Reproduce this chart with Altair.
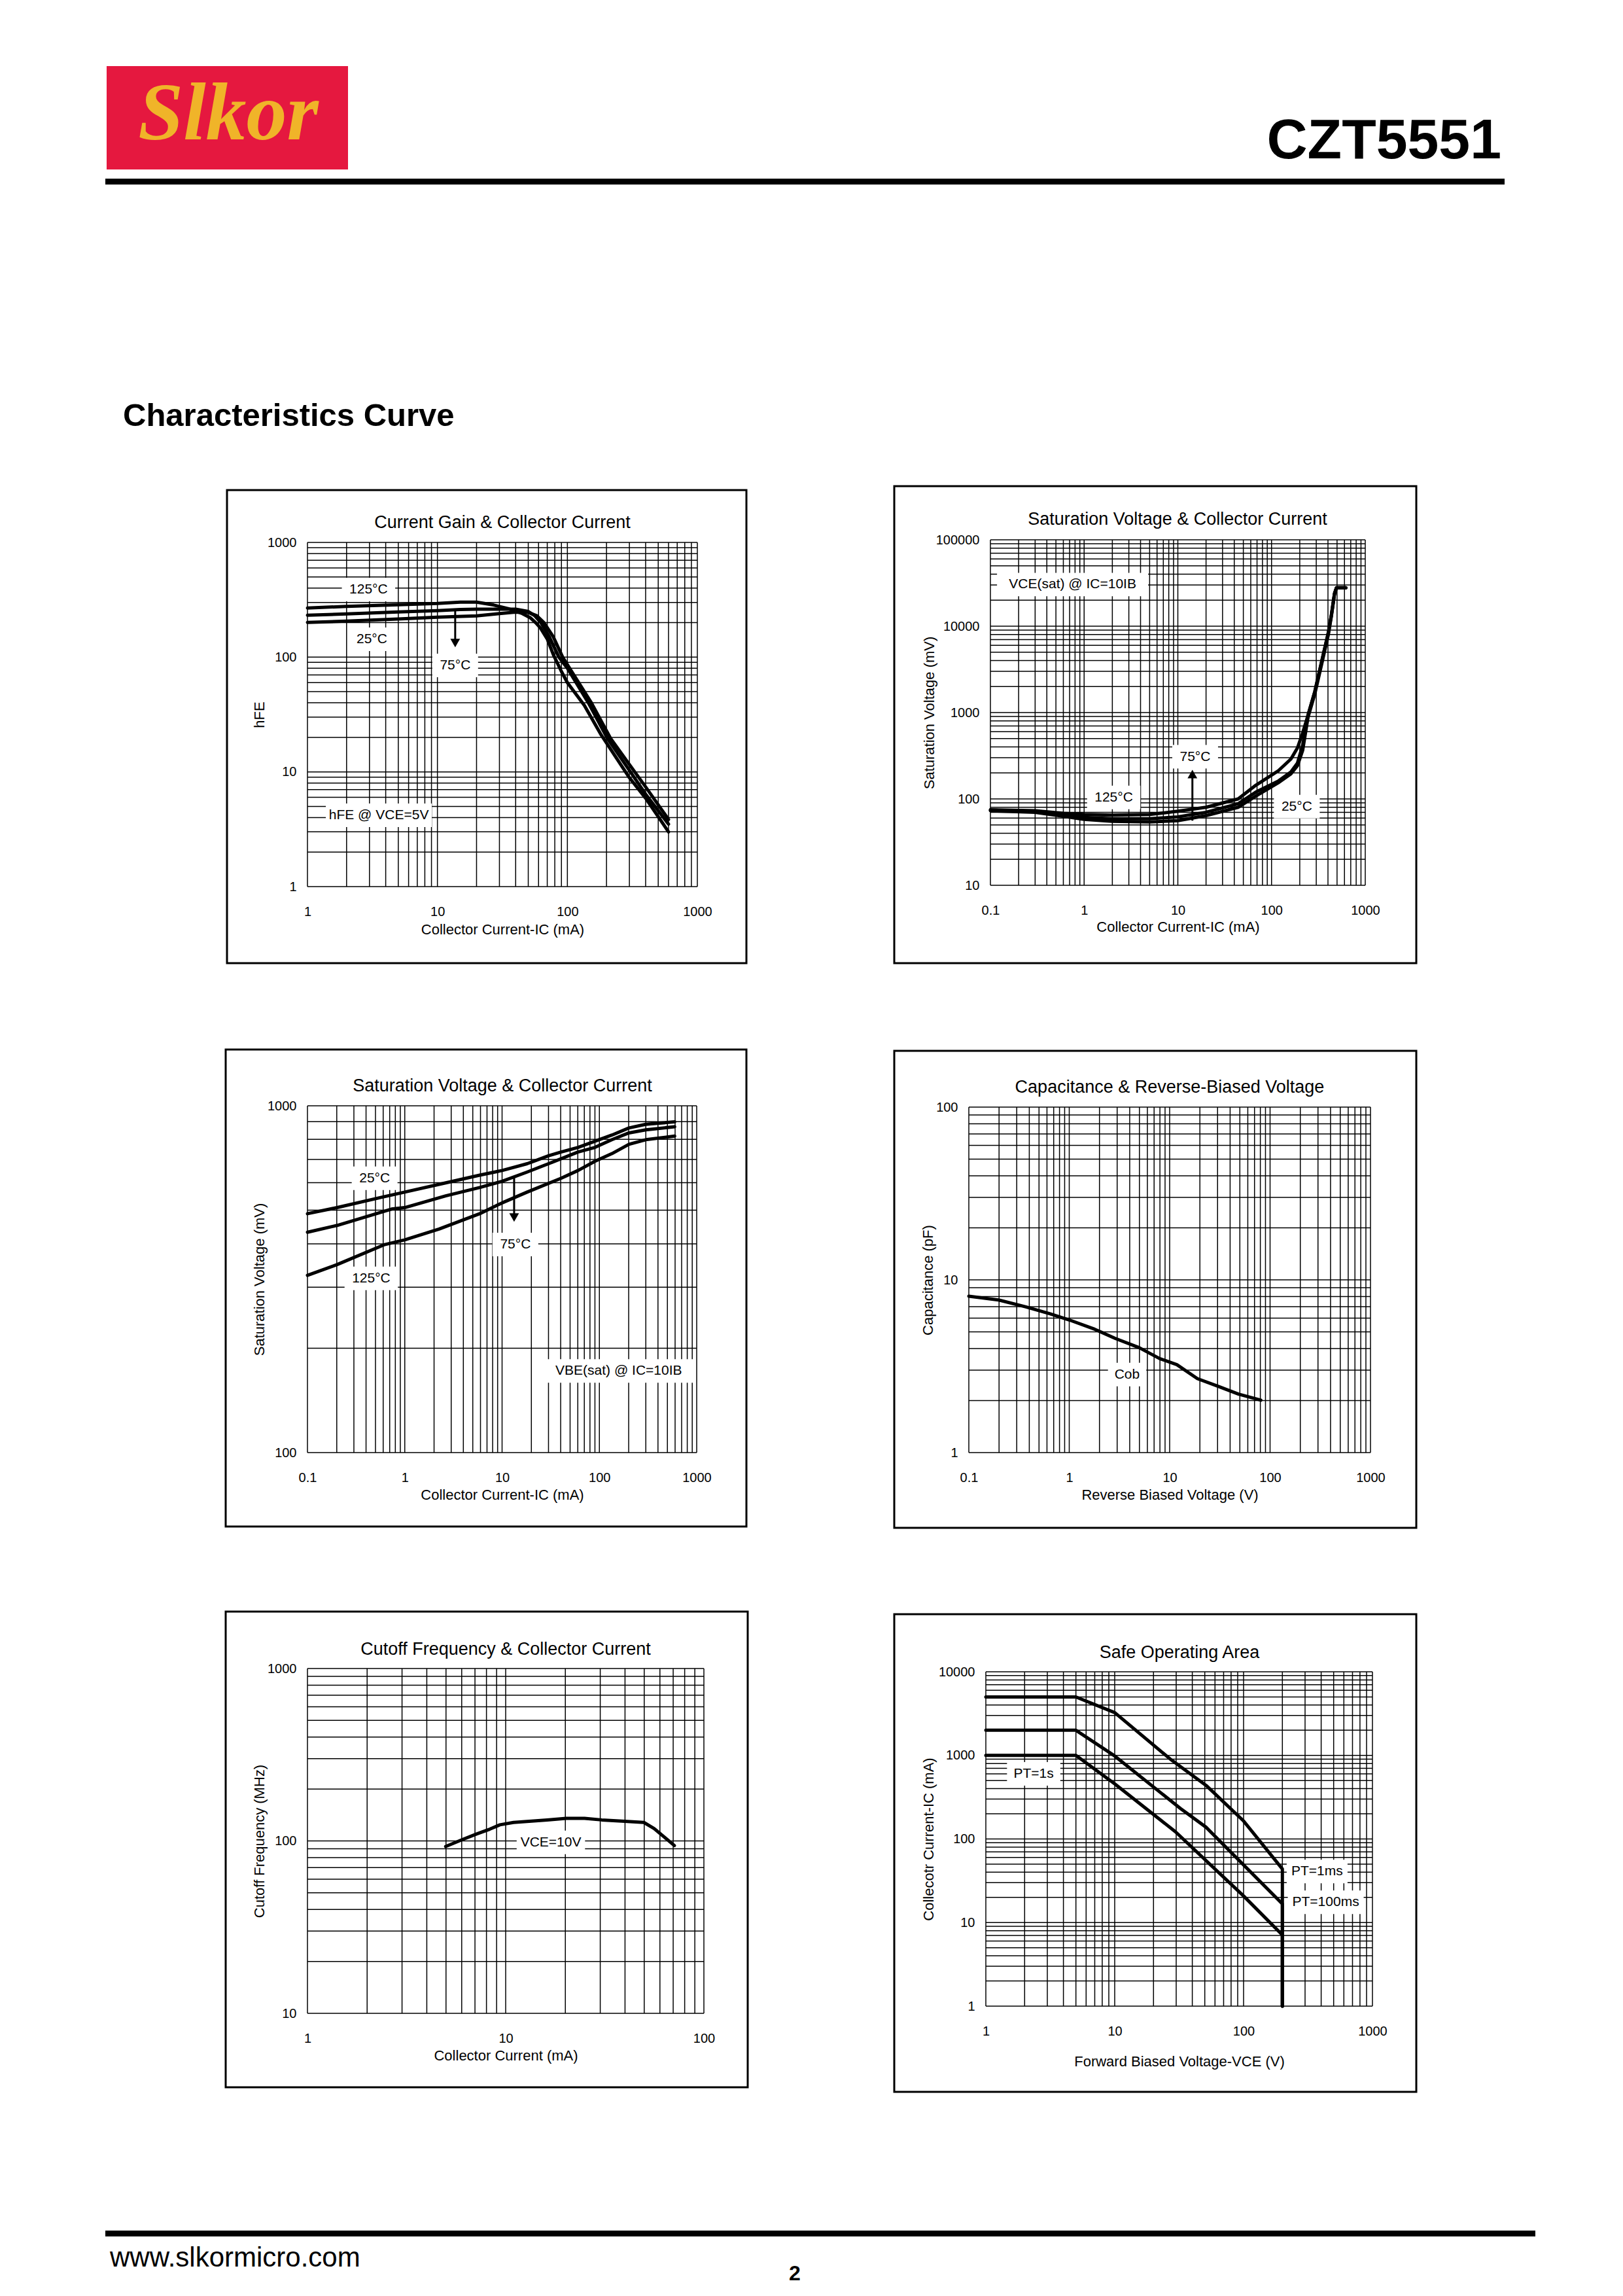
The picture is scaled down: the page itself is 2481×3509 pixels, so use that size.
import math
import altair as alt
import pandas as pd

FONT = "Liberation Sans"

# ---------------- data ----------------
# Chart 1: Current Gain vs Collector Current (hFE @ VCE=5V)
c1_ic_125 = [1, 2, 5, 10, 15, 20, 27, 35, 45, 52, 57, 62, 70, 78, 90, 100, 135, 182, 300, 400, 600]
c1_hfe_125 = [268, 277, 286, 294, 302, 302, 285, 265, 240, 220, 200, 180, 144, 105, 75, 60, 38, 21, 8.9, 5.9, 3.0]
c1_ic_75 = [1, 2, 5, 10, 15, 20, 30, 40, 50, 56, 62.5, 72.7, 86, 100, 145, 203, 300, 400, 600]
c1_hfe_75 = [232, 238, 248, 254, 260, 262, 262, 262, 250, 230, 200, 150, 100, 80, 40, 19.6, 10.3, 6.4, 3.5]
c1_ic_25 = [1, 2, 5, 10, 20, 30, 40, 50, 58, 66, 78, 92, 100, 153, 215, 300, 400, 600]
c1_hfe_25 = [201, 206, 215, 223, 229, 240, 247, 245, 230, 200, 150, 100, 86, 40, 19.6, 11.6, 7.4, 3.85]

# Chart 2: VCE(sat) vs Collector Current
c2_ic = [0.1, 0.3, 0.6, 1, 2, 5, 10, 20, 44, 68, 117, 161, 189, 215, 245, 290, 340, 404, 435, 470, 493, 620]
c2_v_125 = [75, 73, 68, 66, 65, 66, 72, 80, 100, 144, 210, 290, 390, 582, 935, 1758, 3757, 8450, 13460, 24000, 27860, 27860]
c2_v_75 = [74, 72, 66, 61, 59, 59, 62, 70, 88, 120, 160, 205, 260, 420, 935, 1758, 3757, 8450, 13460, 24000, 27860, 27860]
c2_v_25 = [73, 70, 63, 58, 55, 54, 56, 64, 80, 108, 153, 195, 243, 366, 880, 1650, 3500, 8000, 13000, 23500, 27860, 27860]

# Chart 3: VBE(sat) vs Collector Current
c3_ic_25 = [0.1, 0.202, 0.575, 1.0, 2.64, 5.89, 10, 18.1, 30, 40.4, 60.3, 90.1, 134.6, 201, 300, 594]
c3_v_25 = [488.5, 508.8, 544.5, 563.8, 599.5, 631, 650.8, 680.7, 717.8, 735.6, 758.6, 790.3, 823.5, 863, 884.4, 899]
c3_ic_75 = [0.1, 0.202, 0.731, 1.0, 2.64, 5.89, 10, 18.1, 30, 60.3, 90.1, 134.6, 201, 300, 594]
c3_v_75 = [432, 452, 503.8, 508.8, 550, 581.4, 605.6, 644.2, 680.7, 735.6, 758.6, 798.5, 835.3, 852.6, 870.3]
c3_ic_125 = [0.1, 0.202, 0.623, 1.0, 2.25, 5.89, 10, 18.1, 40.4, 60.3, 90.1, 134.6, 201, 300, 594]
c3_v_125 = [324.5, 348.5, 398, 410.6, 441, 488.5, 524.8, 563.8, 618.2, 650.8, 691.8, 728, 774.3, 798.5, 818]

# Chart 4: Capacitance vs Reverse-Biased Voltage
c4_vr = [0.1, 0.198, 0.371, 0.644, 1.0, 1.79, 2.87, 4.97, 7.96, 11.8, 18.9, 30.3, 48.5, 80.9]
c4_cob = [8.04, 7.65, 6.97, 6.36, 5.86, 5.18, 4.58, 4.05, 3.50, 3.23, 2.68, 2.42, 2.18, 2.01]

# Chart 5: Cutoff Frequency vs Collector Current
c5_ic = [4.98, 6.07, 7.10, 8.31, 9.35, 10.95, 12.8, 16.2, 20.2, 25.0, 30.5, 38.6, 49.8, 56.1, 71.0]
c5_ft = [92.8, 102, 109.5, 117, 124, 128, 129.7, 132.4, 135.1, 135.1, 132.4, 130.2, 128, 118, 94]

# Chart 6: Safe Operating Area
c6_v_1ms = [1, 5, 10, 27, 51.2, 100, 200, 200]
c6_i_1ms = [5000, 5000, 3245, 903, 437, 164, 43.7, 1]
c6_v_100ms = [1, 5, 10, 32.4, 51.2, 200, 200]
c6_i_100ms = [2000, 2000, 983, 231, 138, 16.7, 1]
c6_v_1s = [1, 5, 10, 29.6, 100, 200, 200]
c6_i_1s = [1000, 1000, 456, 122, 20.8, 7.1, 1]

# annotation labels: (text, x, y)
c1_labels = [("125°C", 2.95, 389), ("25°C", 3.13, 143), ("75°C", 13.7, 84.7), ("hFE @ VCE=5V", 3.54, 4.19)]
c2_labels = [("VCE(sat) @ IC=10IB", 0.753, 30340), ("125°C", 2.07, 104), ("75°C", 15.3, 308), ("25°C", 186, 81.5)]
c3_labels = [("25°C", 0.49, 618), ("75°C", 13.7, 398), ("125°C", 0.452, 318), ("VBE(sat) @ IC=10IB", 158, 172)]
c4_labels = [("Cob", 3.77, 2.83)]
c5_labels = [("VCE=10V", 16.9, 98)]
c6_labels = [("PT=1s", 2.35, 600), ("PT=1ms", 372, 40.8), ("PT=100ms", 434, 17.5)]

# arrows: (x, y_from, y_to_tip, direction)
c1_arrows = [(13.7, 265, 118, "down")]
c2_arrows = [(14.3, 56, 227, "up")]
c3_arrows = [(13.3, 625, 458, "down")]

# ---------------- layout (page pixels) ----------------
COL_X = [470, 1481]
ROW_Y = [825, 1690, 2550]
CELL_W = [606, 617]
CELL_H = [535, 530, 527]

panels_cfg = [
    dict(cell=(0, 0), plot=(470, 829, 596, 526), box=(347, 749, 1141, 1472),
         title="Current Gain & Collector Current", title_xy=(768, 799),
         xdom=[1, 1000], ydom=[1, 1000],
         xtitle="Collector Current-IC (mA)", xtitle_y=1420, ytitle="hFE", ytitle_x=396,
         series=[("125", c1_ic_125, c1_hfe_125), ("75", c1_ic_75, c1_hfe_75), ("25", c1_ic_25, c1_hfe_25)],
         labels=c1_labels, arrows=c1_arrows),
    dict(cell=(1, 0), plot=(1514, 825, 573, 528), box=(1367, 743, 2165, 1472),
         title="Saturation Voltage & Collector Current", title_xy=(1800, 794),
         xdom=[0.1, 1000], ydom=[10, 100000],
         xtitle="Collector Current-IC (mA)", xtitle_y=1416, ytitle="Saturation Voltage (mV)", ytitle_x=1420,
         series=[("125", c2_ic, c2_v_125), ("75", c2_ic, c2_v_75), ("25", c2_ic, c2_v_25)],
         labels=c2_labels, arrows=c2_arrows),
    dict(cell=(0, 1), plot=(470, 1690, 595, 530), box=(345, 1604, 1141, 2333),
         title="Saturation Voltage & Collector Current", title_xy=(768, 1660),
         xdom=[0.1, 1000], ydom=[100, 1000],
         xtitle="Collector Current-IC (mA)", xtitle_y=2284, ytitle="Saturation Voltage (mV)", ytitle_x=396,
         series=[("25", c3_ic_25, c3_v_25), ("75", c3_ic_75, c3_v_75), ("125", c3_ic_125, c3_v_125)],
         labels=c3_labels, arrows=c3_arrows),
    dict(cell=(1, 1), plot=(1481, 1692, 614, 528), box=(1367, 1606, 2165, 2335),
         title="Capacitance & Reverse-Biased Voltage", title_xy=(1788, 1662),
         xdom=[0.1, 1000], ydom=[1, 100],
         xtitle="Reverse Biased Voltage (V)", xtitle_y=2284, ytitle="Capacitance (pF)", ytitle_x=1418,
         series=[("Cob", c4_vr, c4_cob)], labels=c4_labels, arrows=[]),
    dict(cell=(0, 2), plot=(470, 2550, 606, 527), box=(345, 2463, 1143, 3190),
         title="Cutoff Frequency & Collector Current", title_xy=(773, 2521),
         xdom=[1, 100], ydom=[10, 1000],
         xtitle="Collector Current (mA)", xtitle_y=3141, ytitle="Cutoff Frequency (MHz)", ytitle_x=396,
         series=[("fT", c5_ic, c5_ft)], labels=c5_labels, arrows=[]),
    dict(cell=(1, 2), plot=(1507, 2555, 591, 511), box=(1367, 2467, 2165, 3197),
         title="Safe Operating Area", title_xy=(1803, 2526),
         xdom=[1, 1000], ydom=[1, 10000],
         xtitle="Forward Biased Voltage-VCE (V)", xtitle_y=3150, ytitle="Collecotr Current-IC (mA)", ytitle_x=1419,
         series=[("1ms", c6_v_1ms, c6_i_1ms), ("100ms", c6_v_100ms, c6_i_100ms), ("1s", c6_v_1s, c6_i_1s)],
         labels=c6_labels, arrows=[]),
]

ONE = alt.Data(values=[{}])


def decades(lo, hi):
    e0, e1 = round(math.log10(lo)), round(math.log10(hi))
    return [10.0 ** e for e in range(e0, e1 + 1)]


def grid_values(lo, hi):
    vals = []
    e0, e1 = round(math.log10(lo)), round(math.log10(hi))
    for e in range(e0, e1 + 1):
        for m in range(1, 10):
            v = m * 10.0 ** e
            if v <= hi * 1.0001:
                vals.append(v)
    return vals


def deco_text(text, x, y, size, weight="normal", align="center", baseline="middle",
              color="black", style="normal", font=FONT):
    return alt.Chart(ONE).mark_text(
        text=text, font=font, fontSize=size, fontWeight=weight, fontStyle=style,
        align=align, baseline=baseline, color=color
    ).encode(x=alt.value(x), y=alt.value(y))


def deco_rect(x1, y1, x2, y2, fill=None, stroke=None, sw=0):
    kw = {}
    if fill:
        kw.update(fill=fill, fillOpacity=1)
    else:
        kw.update(fillOpacity=0)
    if stroke:
        kw.update(stroke=stroke, strokeWidth=sw)
    else:
        kw.update(strokeWidth=0)
    return alt.Chart(ONE).mark_rect(**kw).encode(
        x=alt.value(x1), x2=alt.value(x2), y=alt.value(y1), y2=alt.value(y2))


def build_panel(cfg, extra=()):
    col, row = cfg["cell"]
    ox, oy = COL_X[col], ROW_Y[row]
    cw, ch = CELL_W[col], CELL_H[row]
    px, py, pw, ph = cfg["plot"]
    dx, dy = px - ox, py - oy

    xs = alt.Scale(type="log", domain=cfg["xdom"], range=[dx, dx + pw], nice=False)
    ys = alt.Scale(type="log", domain=cfg["ydom"], range=[dy + ph, dy], nice=False)

    xaxis = alt.Axis(
        values=decades(*cfg["xdom"]), labelExpr="format(datum.value, '~g')",
        grid=False, ticks=False, tickSize=0, domain=False,
        labelFont=FONT, labelFontSize=20, labelColor="black", labelPadding=28,
        labelFlush=False, labelOverlap=False, offset=-(ch - dy - ph),
        title=cfg["xtitle"], titleFont=FONT, titleFontSize=22, titleFontWeight="normal",
        titleColor="black", titleX=dx + pw / 2, titleY=cfg["xtitle_y"] - (py + ph),
        titleBaseline="middle", titleAlign="center")
    yaxis = alt.Axis(
        values=decades(*cfg["ydom"]), labelExpr="format(datum.value, '~g')",
        grid=False, ticks=False, tickSize=0, domain=False,
        labelFont=FONT, labelFontSize=20, labelColor="black", labelPadding=17,
        labelFlush=False, labelOverlap=False, offset=-dx,
        title=cfg["ytitle"], titleFont=FONT, titleFontSize=22, titleFontWeight="normal",
        titleColor="black", titleAngle=270, titleX=cfg["ytitle_x"] - px, titleY=dy + ph / 2,
        titleBaseline="middle", titleAlign="center")

    bx1, by1, bx2, by2 = cfg["box"]
    layers = list(extra)
    layers.append(deco_rect(bx1 - ox, by1 - oy, bx2 - ox, by2 - oy, stroke="black", sw=3))

    gx = pd.DataFrame({"v": grid_values(*cfg["xdom"])})
    gy = pd.DataFrame({"v": grid_values(*cfg["ydom"])})
    layers.append(alt.Chart(gx).mark_rule(color="black", strokeWidth=1.5).encode(
        x=alt.X("v:Q", scale=xs, axis=xaxis), y=alt.value(dy), y2=alt.value(dy + ph)))
    layers.append(alt.Chart(gy).mark_rule(color="black", strokeWidth=1.5).encode(
        y=alt.Y("v:Q", scale=ys, axis=yaxis), x=alt.value(dx), x2=alt.value(dx + pw)))

    rows = []
    for name, xv, yv in cfg["series"]:
        for i, (a, b) in enumerate(zip(xv, yv)):
            rows.append({"s": name, "i": i, "x": a, "y": b})
    sdf = pd.DataFrame(rows)
    layers.append(alt.Chart(sdf).mark_line(
        color="black", strokeWidth=5, strokeJoin="round", strokeCap="round").encode(
        x=alt.X("x:Q", scale=xs, axis=xaxis), y=alt.Y("y:Q", scale=ys, axis=yaxis),
        detail="s:N", order="i:Q"))

    if cfg["labels"]:
        ldf = pd.DataFrame(cfg["labels"], columns=["t", "x", "y"])
        w = ldf["t"].str.len() * 11.5 + 24
        hh = 36.0
        ldf["shape"] = [f"M-1,-{hh / wi:.4f}L1,-{hh / wi:.4f}L1,{hh / wi:.4f}L-1,{hh / wi:.4f}Z" for wi in w]
        ldf["size"] = w ** 2
        layers.append(alt.Chart(ldf).mark_point(filled=True, color="white", opacity=1, strokeWidth=0).encode(
            x=alt.X("x:Q", scale=xs, axis=xaxis), y=alt.Y("y:Q", scale=ys, axis=yaxis),
            shape=alt.Shape("shape:N", scale=None), size=alt.Size("size:Q", scale=None)))
        layers.append(alt.Chart(ldf).mark_text(font=FONT, fontSize=21, color="black").encode(
            x=alt.X("x:Q", scale=xs, axis=xaxis), y=alt.Y("y:Q", scale=ys, axis=yaxis), text="t:N"))

    if cfg["arrows"]:
        adf = pd.DataFrame(cfg["arrows"], columns=["x", "y1", "y2", "d"])
        f = 10 ** (9.0 / ph * (math.log10(cfg["ydom"][1]) - math.log10(cfg["ydom"][0])))
        adf["yh"] = [y2 * f if d == "down" else y2 / f for y2, d in zip(adf["y2"], adf["d"])]
        layers.append(alt.Chart(adf).mark_rule(color="black", strokeWidth=3).encode(
            x=alt.X("x:Q", scale=xs, axis=xaxis), y=alt.Y("y1:Q", scale=ys, axis=yaxis), y2="yh:Q"))
        for d, shp in (("down", "triangle-down"), ("up", "triangle-up")):
            sub = adf[adf["d"] == d]
            if len(sub):
                layers.append(alt.Chart(sub).mark_point(
                    shape=shp, filled=True, color="black", opacity=1, size=220).encode(
                    x=alt.X("x:Q", scale=xs, axis=xaxis), y=alt.Y("yh:Q", scale=ys, axis=yaxis)))

    tx, ty = cfg["title_xy"]
    layers.append(deco_text(cfg["title"], tx - ox, ty - oy, 27))

    return alt.layer(*layers).properties(width=cw, height=ch)


# header decorations (relative to the first cell's origin)
ox0, oy0 = COL_X[0], ROW_Y[0]
header = [
    deco_rect(163 - ox0, 101 - oy0, 532 - ox0, 259 - oy0, fill="#E5183F"),
    deco_text("Slkor", 349 - ox0, 213 - oy0, 124, weight="bold", style="italic",
              baseline="alphabetic", color="#F0B429", font="Liberation Serif"),
    deco_text("CZT5551", 2295 - ox0, 242 - oy0, 86, weight="bold", align="right", baseline="alphabetic"),
    deco_rect(161 - ox0, 273 - oy0, 2300 - ox0, 282 - oy0, fill="black"),
    deco_text("Characteristics Curve", 188 - ox0, 651 - oy0, 49, weight="bold", align="left",
              baseline="alphabetic"),
]
ox2, oy2 = COL_X[0], ROW_Y[2]
footer = [
    deco_rect(161 - ox2, 3409 - oy2, 2347 - ox2, 3418 - oy2, fill="black"),
    deco_text("www.slkormicro.com", 168 - ox2, 3464 - oy2, 42, align="left", baseline="alphabetic"),
    deco_text("2", 1215 - ox2, 3485 - oy2, 32, weight="bold", baseline="alphabetic"),
]

panels = []
for k, cfg in enumerate(panels_cfg):
    extra = header if k == 0 else (footer if k == 4 else ())
    panels.append(build_panel(cfg, extra))

chart = alt.concat(
    *panels, columns=2, bounds="flush", align="each",
    spacing={"row": 330, "column": 405},
    padding={"left": 153, "top": 93, "right": 20, "bottom": 20},
    background="white",
).configure_view(stroke=None)

chart.save("out.html", embed_options={"renderer": "svg", "actions": False})
